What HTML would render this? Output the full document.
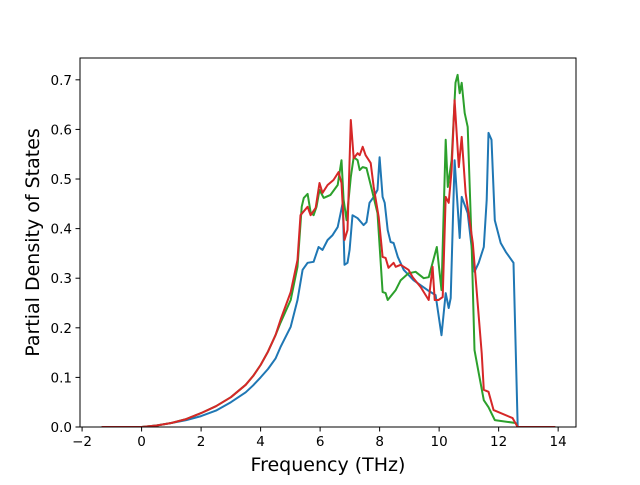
<!DOCTYPE html>
<html><head><meta charset="utf-8"><style>
body{margin:0;background:#fff}
svg text{font-family:"DejaVu Sans","Liberation Sans",sans-serif}
</style></head><body>
<svg id="chart" width="640" height="480" xmlns="http://www.w3.org/2000/svg">
<rect width="640" height="480" fill="#fff"/>
<g id="plot"></g>
</svg>
<script>
const xTicks=[-2,0,2,4,6,8,10,12,14];
const yTicks=[0.0,0.1,0.2,0.3,0.4,0.5,0.6,0.7];
const lowX=[-1.34,0,0.5,1,1.5,2,2.5,3,3.5,3.75,4,4.25,4.5];
const lowRG=[0,0,0.003,0.008,0.016,0.028,0.042,0.060,0.085,0.103,0.125,0.152,0.185];
const lowB=[0,0,0.003,0.008,0.014,0.022,0.033,0.050,0.070,0.084,0.100,0.117,0.138];
const blueX=[4.67,5.01,5.24,5.41,5.58,5.78,5.95,6.08,6.25,6.42,6.59,6.69,6.76,6.82,6.92,6.99,7.09,7.26,7.46,7.56,7.66,7.80,7.93,8.00,8.10,8.17,8.27,8.37,8.47,8.61,8.81,9.14,9.61,9.88,10.08,10.22,10.32,10.39,10.52,10.69,10.76,10.96,11.19,11.33,11.50,11.60,11.66,11.76,11.87,12.07,12.24,12.50,12.64,13.9];
const blueY=[0.161,0.202,0.256,0.317,0.331,0.333,0.363,0.357,0.377,0.387,0.403,0.431,0.452,0.327,0.331,0.357,0.427,0.421,0.407,0.413,0.452,0.464,0.478,0.544,0.464,0.452,0.397,0.373,0.371,0.343,0.317,0.296,0.276,0.266,0.185,0.270,0.240,0.260,0.538,0.381,0.464,0.431,0.313,0.331,0.363,0.458,0.593,0.579,0.417,0.371,0.353,0.331,0,0];
const greenX=[4.67,5.01,5.24,5.38,5.45,5.58,5.68,5.78,5.88,5.98,6.12,6.35,6.59,6.72,6.79,6.89,7.03,7.13,7.26,7.33,7.43,7.56,7.70,7.93,8.10,8.20,8.27,8.54,8.71,8.97,9.21,9.48,9.65,9.78,9.92,10.08,10.22,10.29,10.42,10.55,10.62,10.69,10.76,10.86,10.96,11.09,11.19,11.33,11.50,11.66,11.87,12.57,12.64,13.9];
const greenY=[0.210,0.256,0.323,0.444,0.462,0.470,0.433,0.427,0.444,0.478,0.462,0.468,0.488,0.538,0.458,0.417,0.504,0.544,0.538,0.518,0.524,0.522,0.488,0.431,0.272,0.270,0.256,0.276,0.296,0.310,0.313,0.300,0.302,0.331,0.363,0.276,0.579,0.484,0.538,0.694,0.710,0.673,0.694,0.633,0.605,0.371,0.155,0.109,0.054,0.040,0.014,0.008,0,0];
const redX=[4.67,5.01,5.24,5.34,5.58,5.68,5.85,5.98,6.08,6.25,6.45,6.62,6.72,6.82,6.92,7.03,7.13,7.26,7.33,7.43,7.53,7.70,7.80,7.97,8.10,8.20,8.30,8.47,8.54,8.71,8.97,9.11,9.38,9.65,9.78,9.85,9.98,10.12,10.22,10.32,10.42,10.52,10.66,10.76,10.89,11.13,11.43,11.50,11.66,11.83,12.47,12.64,13.9];
const redY=[0.216,0.272,0.337,0.427,0.444,0.427,0.442,0.492,0.472,0.488,0.498,0.514,0.492,0.377,0.397,0.619,0.542,0.552,0.548,0.565,0.548,0.532,0.484,0.423,0.343,0.341,0.321,0.331,0.323,0.327,0.317,0.302,0.282,0.256,0.323,0.256,0.256,0.262,0.464,0.452,0.518,0.659,0.524,0.585,0.472,0.371,0.149,0.075,0.071,0.034,0.018,0,0];

const L=80,T=58,W=496,H=369,xmin=-2.07,xmax=14.6,ymin=0,ymax=0.744;
const sx=v=>L+(v-xmin)/(xmax-xmin)*W;
const sy=v=>T+H-(v-ymin)/(ymax-ymin)*H;
const NS='http://www.w3.org/2000/svg';
const g=document.getElementById('plot');
function mk(tag,attrs){const e=document.createElementNS(NS,tag);for(const k in attrs)e.setAttribute(k,attrs[k]);g.appendChild(e);return e;}

const series=[
 {name:'series-blue',c:'#1f77b4',x:lowX.concat(blueX),y:lowB.concat(blueY)},
 {name:'series-green',c:'#2ca02c',x:lowX.concat(greenX),y:lowRG.concat(greenY)},
 {name:'series-red',c:'#d62728',x:lowX.concat(redX),y:lowRG.concat(redY)}
];
const clip=document.createElementNS(NS,'clipPath');clip.setAttribute('id','cp');
const cr=document.createElementNS(NS,'rect');cr.setAttribute('x',L);cr.setAttribute('y',T);cr.setAttribute('width',W);cr.setAttribute('height',H);
clip.appendChild(cr);g.appendChild(clip);
series.forEach(s=>{
 const d=s.x.map((v,i)=>(i?'L':'M')+sx(v).toFixed(1)+','+sy(s.y[i]).toFixed(1)).join('');
 const p=mk('path',{d:d,fill:'none',stroke:s.c,'stroke-width':2,'stroke-linejoin':'round','clip-path':'url(#cp)'});
 
 
});
const fr=mk('rect',{x:L,y:T,width:W,height:H,fill:'none',stroke:'#000','stroke-width':1});


xTicks.forEach(t=>{
 const x=sx(t);
 const tk=mk('line',{x1:x,x2:x,y1:T+H,y2:T+H+4.5,stroke:'#000','stroke-width':1});
 
 
 const tx=mk('text',{x:x,y:T+H+19,'text-anchor':'middle','font-size':13.5});
 tx.textContent=t<0?'\u2212'+(-t):String(t);
 
 
});
yTicks.forEach(t=>{
 const y=sy(t);
 const tk=mk('line',{x1:L-4.5,x2:L,y1:y,y2:y,stroke:'#000','stroke-width':1});
 
 
 const tx=mk('text',{x:L-8,y:y+5,'text-anchor':'end','font-size':13.5});
 tx.textContent=t.toFixed(1);
 
 
});
const xl=mk('text',{x:L+W/2,y:471,'text-anchor':'middle','font-size':19});
xl.textContent='Frequency (THz)';


const yl=mk('text',{x:0,y:0,'text-anchor':'middle','font-size':19,transform:'translate(39,'+(T+H/2)+') rotate(-90)'});
yl.textContent='Partial Density of States';


</script>
</body></html>
